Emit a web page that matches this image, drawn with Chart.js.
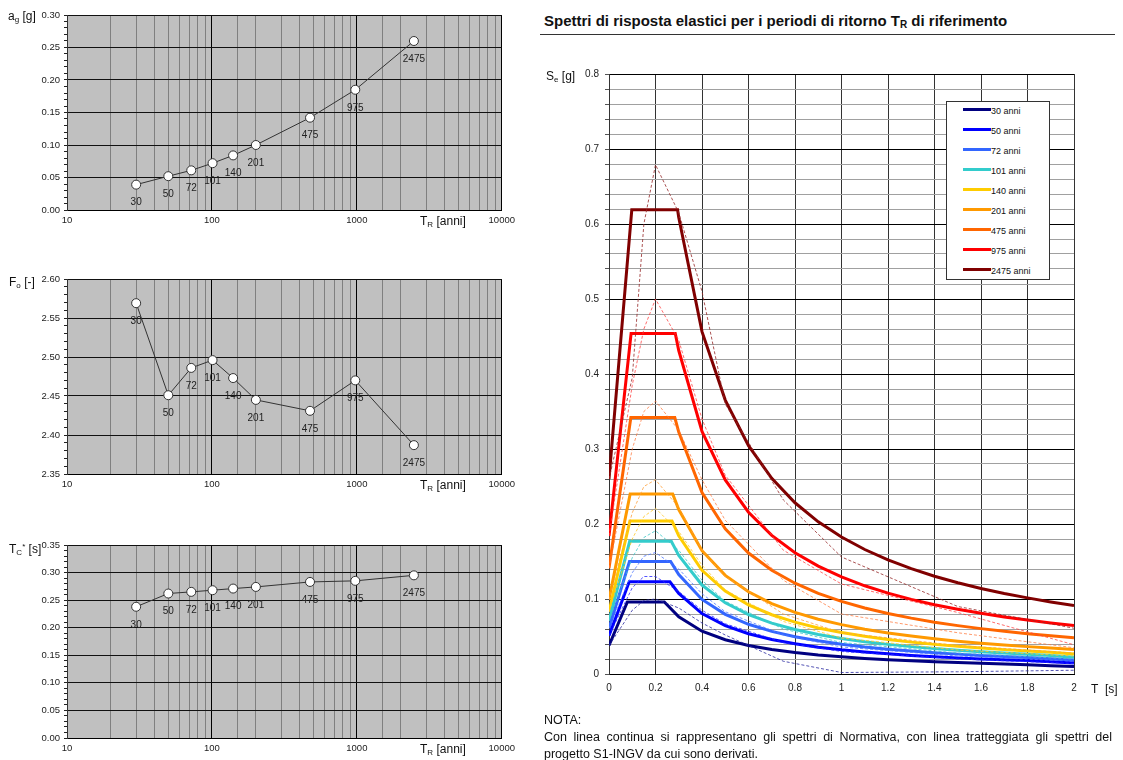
<!DOCTYPE html>
<html>
<head>
<meta charset="utf-8">
<script src="https://cdn.jsdelivr.net/npm/chart.js@4.4.1/dist/chart.umd.min.js"></script>
<style>
  body { margin: 0; background: #fff; font-family: "Liberation Sans", Arial, sans-serif; color: #111; }
  #page { position: relative; width: 1123px; height: 760px; overflow: hidden; }
  canvas { position: absolute; }
  .lbl { position: absolute; font-size: 12px; white-space: nowrap; line-height: 12px; }
  .lbl sub { font-size: 8px; vertical-align: -2px; }
  .lbl sup { font-size: 8px; vertical-align: 4px; }
  #title { position: absolute; left: 544px; top: 12px; font-size: 15px; font-weight: bold; white-space: nowrap; }
  #title sub { font-size: 10px; vertical-align: -2px; }
  #rule { position: absolute; left: 540px; top: 34px; width: 575px; height: 1px; background: #333; }
  #legend { position: absolute; left: 946px; top: 101px; width: 102px; height: 177px; border: 1px solid #333; background: #fff; }
  .item { position: absolute; left: 16px; font-size: 9px; line-height: 10px; white-space: nowrap; }
  .item span { display: inline-block; width: 28px; height: 3px; vertical-align: 3px; }
  #nota { position: absolute; left: 544px; top: 712px; width: 568px; font-size: 12.5px; line-height: 17px; text-align: justify; }
</style>
</head>
<body>
<div id="page">
  <canvas id="agChart" width="520" height="240" style="left:0;top:0"></canvas>
  <canvas id="foChart" width="520" height="240" style="left:0;top:264px"></canvas>
  <canvas id="tcChart" width="520" height="230" style="left:0;top:530px"></canvas>
  <canvas id="seChart" width="583" height="650" style="left:540px;top:55px"></canvas>

  <div class="lbl" style="left:8px;top:10px">a<sub>g</sub> [g]</div>
  <div class="lbl" style="left:9px;top:276px">F<sub>o</sub> [-]</div>
  <div class="lbl" style="left:9px;top:541px">T<sub>C</sub><sup>*</sup> [s]</div>
  <div class="lbl" style="left:420px;top:215px">T<sub>R</sub> [anni]</div>
  <div class="lbl" style="left:420px;top:479px">T<sub>R</sub> [anni]</div>
  <div class="lbl" style="left:420px;top:743px">T<sub>R</sub> [anni]</div>
  <div class="lbl" style="left:546px;top:70px;font-size:12px">S<sub>e</sub> [g]</div>
  <div class="lbl" style="left:1091px;top:683px;font-size:12px">T&nbsp; [s]</div>

  <div id="title">Spettri di risposta elastici per i periodi di ritorno T<sub>R</sub> di riferimento</div>
  <div id="rule"></div>
  <div id="legend"></div>
  <div id="nota">NOTA:<br>Con linea continua si rappresentano gli spettri di Normativa, con linea tratteggiata gli spettri del progetto S1-INGV da cui sono derivati.</div>
</div>

<script>
// parametri di pericolosità per periodo di ritorno
const returnPeriods = [30, 50, 72, 101, 140, 201, 475, 975, 2475];
const agValues = [0.039, 0.052, 0.061, 0.072, 0.084, 0.100, 0.142, 0.185, 0.260];
const foValues = [2.569, 2.451, 2.486, 2.496, 2.473, 2.445, 2.431, 2.470, 2.387];
const tcValues = [0.238, 0.262, 0.265, 0.268, 0.271, 0.274, 0.283, 0.285, 0.295];

// spettri di normativa (linea continua)
const spectrumNames = ["30 anni", "50 anni", "72 anni", "101 anni", "140 anni", "201 anni", "475 anni", "975 anni", "2475 anni"];
const normSe0 = [0.038, 0.051, 0.061, 0.071, 0.083, 0.099, 0.141, 0.184, 0.260];
const normPlateau = [0.096, 0.123, 0.150, 0.177, 0.204, 0.240, 0.342, 0.454, 0.619];
const normTB = [0.079, 0.087, 0.088, 0.089, 0.090, 0.091, 0.094, 0.095, 0.098];
const normTC = [0.238, 0.262, 0.265, 0.268, 0.271, 0.274, 0.283, 0.285, 0.295];
const normTailT = [0.3, 0.4, 0.5, 0.6, 0.7, 0.8, 0.9, 1.0, 1.1, 1.2, 1.3, 1.4, 1.5, 1.6, 1.7, 1.8, 1.9, 2.0];
const normTail = [
  [0.0762, 0.0571, 0.0457, 0.0381, 0.0326, 0.0286, 0.0254, 0.0229, 0.0208, 0.0190, 0.0176, 0.0163, 0.0152, 0.0143, 0.0134, 0.0124, 0.0111, 0.0100],
  [0.1074, 0.0806, 0.0645, 0.0537, 0.0460, 0.0403, 0.0358, 0.0322, 0.0293, 0.0269, 0.0248, 0.0230, 0.0215, 0.0201, 0.0190, 0.0179, 0.0162, 0.0146],
  [0.1325, 0.0994, 0.0795, 0.0663, 0.0568, 0.0497, 0.0442, 0.0398, 0.0361, 0.0331, 0.0306, 0.0284, 0.0265, 0.0248, 0.0234, 0.0221, 0.0203, 0.0183],
  [0.1581, 0.1186, 0.0949, 0.0791, 0.0678, 0.0593, 0.0527, 0.0474, 0.0431, 0.0395, 0.0365, 0.0339, 0.0316, 0.0297, 0.0279, 0.0264, 0.0248, 0.0224],
  [0.1843, 0.1382, 0.1106, 0.0921, 0.0790, 0.0691, 0.0614, 0.0553, 0.0503, 0.0461, 0.0425, 0.0395, 0.0369, 0.0346, 0.0325, 0.0307, 0.0291, 0.0267],
  [0.2192, 0.1644, 0.1315, 0.1096, 0.0939, 0.0822, 0.0731, 0.0658, 0.0598, 0.0548, 0.0506, 0.0470, 0.0438, 0.0411, 0.0387, 0.0365, 0.0346, 0.0328],
  [0.3226, 0.2420, 0.1936, 0.1613, 0.1383, 0.1210, 0.1075, 0.0968, 0.0880, 0.0807, 0.0745, 0.0691, 0.0645, 0.0605, 0.0569, 0.0538, 0.0509, 0.0484],
  [0.4313, 0.3235, 0.2588, 0.2157, 0.1848, 0.1617, 0.1438, 0.1294, 0.1176, 0.1078, 0.0995, 0.0924, 0.0863, 0.0809, 0.0761, 0.0719, 0.0681, 0.0647],
  [0.6087, 0.4565, 0.3652, 0.3044, 0.2609, 0.2283, 0.2029, 0.1826, 0.1660, 0.1522, 0.1405, 0.1304, 0.1217, 0.1141, 0.1074, 0.1015, 0.0961, 0.0913]
];

// spettri S1-INGV (linea tratteggiata)
const ingvT = [0, 0.1, 0.15, 0.2, 0.3, 0.4, 0.5, 0.75, 1.0, 1.5, 2.0];
const ingvSe = [
  [0.038, 0.085, 0.098, 0.100, 0.088, 0.068, 0.052, 0.017, 0.002, 0.003, 0.005],
  [0.051, 0.115, 0.130, 0.130, 0.110, 0.085, 0.067, 0.042, 0.030, 0.020, 0.014],
  [0.061, 0.135, 0.157, 0.162, 0.140, 0.107, 0.083, 0.052, 0.036, 0.024, 0.017],
  [0.071, 0.155, 0.182, 0.191, 0.165, 0.125, 0.097, 0.060, 0.042, 0.028, 0.020],
  [0.083, 0.180, 0.210, 0.221, 0.190, 0.145, 0.112, 0.070, 0.048, 0.032, 0.024],
  [0.099, 0.215, 0.250, 0.259, 0.222, 0.165, 0.130, 0.080, 0.055, 0.038, 0.028],
  [0.141, 0.300, 0.350, 0.364, 0.325, 0.259, 0.205, 0.125, 0.080, 0.055, 0.035],
  [0.184, 0.385, 0.460, 0.500, 0.445, 0.340, 0.265, 0.165, 0.120, 0.082, 0.039],
  [0.260, 0.395, 0.600, 0.679, 0.615, 0.510, 0.360, 0.232, 0.156, 0.090, 0.061]
];

const spectrumColors = ["#000080", "#0000ff", "#3366ff", "#33cccc", "#ffcc00", "#ff9900", "#ff6600", "#ff0000", "#800000"];
const dashedColors = ["rgba(40,40,160,0.8)", "rgba(40,40,255,0.8)", "rgba(80,120,255,0.8)", "rgba(60,200,200,0.8)",
  "rgba(255,200,40,0.8)", "rgba(255,160,60,0.8)", "rgba(255,120,60,0.75)", "rgba(255,60,60,0.75)", "rgba(150,40,40,0.8)"];

const FONT = '"Liberation Sans", Arial, sans-serif';
Chart.defaults.font.family = FONT;
Chart.defaults.color = "#222";

const isDecade = v => Math.abs(Math.log10(v) - Math.round(Math.log10(v))) < 1e-9;
const isMultiple = (v, step) => Math.abs(v / step - Math.round(v / step)) < 1e-6;

const grayPlot = {
  id: "grayPlot",
  beforeDraw(chart) {
    const { ctx, chartArea: a } = chart;
    ctx.save();
    ctx.fillStyle = "#c0c0c0";
    ctx.fillRect(a.left, a.top, a.right - a.left, a.bottom - a.top);
    ctx.restore();
  }
};

const pointLabels = {
  id: "pointLabels",
  afterDatasetsDraw(chart) {
    const ctx = chart.ctx;
    const meta = chart.getDatasetMeta(0);
    ctx.save();
    ctx.font = "10px " + FONT;
    ctx.fillStyle = "#222";
    ctx.textAlign = "center";
    ctx.textBaseline = "middle";
    meta.data.forEach((p, i) => ctx.fillText(String(returnPeriods[i]), p.x, p.y + 18));
    ctx.restore();
  }
};

function trChart(id, values, min, max, axisHeight) {
  new Chart(document.getElementById(id), {
    type: "scatter",
    data: {
      datasets: [{
        data: returnPeriods.map((t, i) => ({ x: t, y: values[i] })),
        showLine: true,
        borderColor: "#333",
        borderWidth: 1,
        pointRadius: 4.5,
        pointBackgroundColor: "#fff",
        pointBorderColor: "#333",
        pointBorderWidth: 1
      }]
    },
    options: {
      responsive: false,
      animation: false,
      layout: { padding: { top: 15, right: 13, left: 0, bottom: 0 } },
      plugins: { legend: { display: false }, tooltip: { enabled: false } },
      scales: {
        x: {
          type: "logarithmic", min: 10, max: 10000,
          afterFit(s) { s.height = axisHeight; },
          border: { color: "#000" },
          grid: { color: c => isDecade(c.tick.value) ? "#000" : "#808080", drawTicks: false },
          ticks: { autoSkip: false, maxRotation: 0, padding: 5, font: { size: 9.5 },
            callback: v => isDecade(v) ? String(v) : "" }
        },
        y: {
          min: min, max: max,
          afterFit(s) { s.width = 67; },
          border: { color: "#333" },
          grid: { color: c => isMultiple(c.tick.value, 0.05) ? "#111" : "rgba(0,0,0,0)", tickColor: "#222", tickLength: 3 },
          ticks: { stepSize: 0.01, maxTicksLimit: 100, autoSkip: false, padding: 4, font: { size: 9.5 },
            callback: v => isMultiple(v, 0.05) ? v.toFixed(2) : "" }
        }
      }
    },
    plugins: [grayPlot, pointLabels]
  });
}

trChart("agChart", agValues, 0, 0.30, 30);
trChart("foChart", foValues, 2.35, 2.60, 30);
trChart("tcChart", tcValues, 0, 0.35, 22);

// spettri elastici
const solidSets = spectrumNames.map((name, i) => ({
  label: name,
  data: [
    { x: 0, y: normSe0[i] },
    { x: normTB[i], y: normPlateau[i] },
    { x: normTC[i], y: normPlateau[i] },
    ...normTailT.map((t, j) => ({ x: t, y: normTail[i][j] }))
  ],
  showLine: true, borderColor: spectrumColors[i], borderWidth: 3, pointRadius: 0, order: 1
}));

const dashedSets = spectrumNames.map((name, i) => ({
  label: name + " INGV",
  data: ingvT.map((t, j) => ({ x: t, y: ingvSe[i][j] })),
  showLine: true, borderColor: dashedColors[i], borderWidth: 1, borderDash: [3, 2], pointRadius: 0, order: 0
}));

new Chart(document.getElementById("seChart"), {
  type: "scatter",
  data: { datasets: [...solidSets, ...dashedSets] },
  options: {
    responsive: false,
    animation: false,
    layout: { padding: { top: 19, right: 49, left: 0, bottom: 0 } },
    plugins: { legend: { display: false }, tooltip: { enabled: false } },
    scales: {
      x: {
        type: "linear", min: 0, max: 2,
        afterFit(s) { s.height = 31; },
        border: { color: "#000" },
        grid: { color: "#333", drawTicks: false },
        ticks: { stepSize: 0.2, padding: 8, font: { size: 10 }, maxRotation: 0,
          callback: v => String(Math.round(v * 10) / 10) }
      },
      y: {
        min: 0, max: 0.8,
        afterFit(s) { s.width = 69; },
        border: { color: "#333" },
        grid: { color: c => isMultiple(c.tick.value, 0.1) ? "#000" : "#a0a0a0", tickColor: "#555", tickLength: 4 },
        ticks: { stepSize: 0.02, maxTicksLimit: 100, autoSkip: false, padding: 6, font: { size: 10 },
          callback: v => isMultiple(v, 0.1) ? String(Math.round(v * 10) / 10) : "" }
      }
    }
  }
});

// legenda
const legend = document.getElementById("legend");
spectrumNames.forEach((name, i) => {
  const row = document.createElement("div");
  row.className = "item";
  row.style.top = (4 + i * 20) + "px";
  row.innerHTML = '<span style="background:' + spectrumColors[i] + '"></span>' + name;
  legend.appendChild(row);
});
</script>
</body>
</html>
